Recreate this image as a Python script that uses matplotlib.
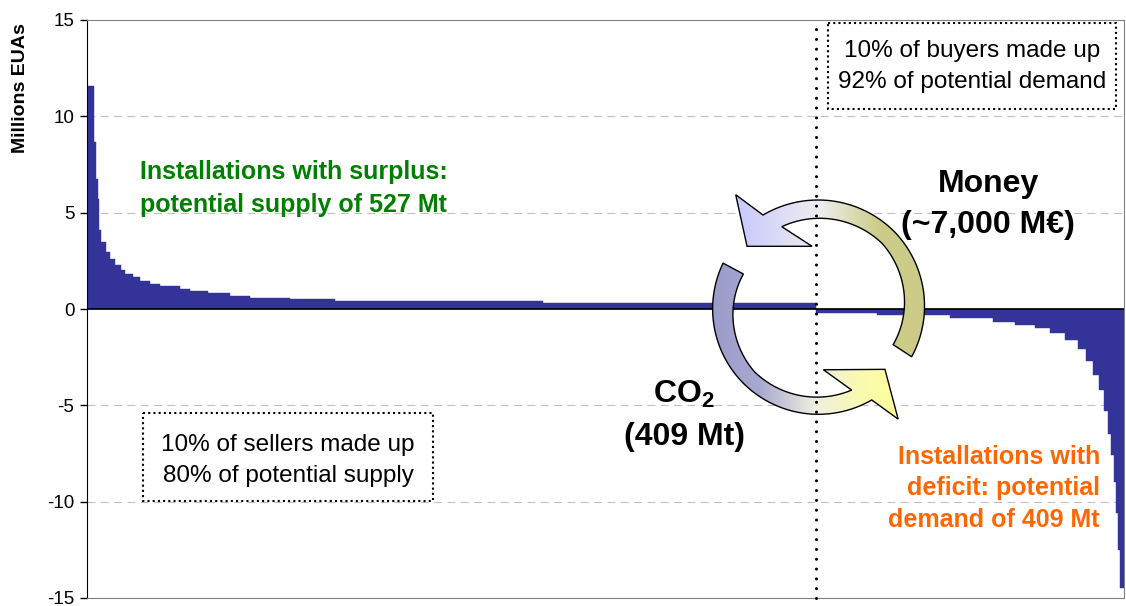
import numpy as np
import matplotlib.pyplot as plt
from matplotlib.patches import Polygon, Rectangle
from matplotlib.colors import LinearSegmentedColormap
from matplotlib.transforms import blended_transform_factory

plt.rcParams['font.family'] = ['Liberation Sans', 'DejaVu Sans']
plt.rcParams['mathtext.fontset'] = 'custom'
plt.rcParams['mathtext.rm'] = 'Liberation Sans'
plt.rcParams['mathtext.bf'] = 'Liberation Sans:bold'
plt.rcParams['axes.unicode_minus'] = False

# installations sorted by position (Millions EUAs), grouped into steps
surplus = [11.55, 8.65, 6.75, 5.7, 4.1, 3.5, 2.95, 2.6, 2.3, 2.0, 1.8, 1.65,
           1.45, 1.3, 1.17, 1.04, 0.93, 0.82, 0.70, 0.59, 0.50, 0.42, 0.31]
surplus_n = [7, 2, 2, 1, 2, 5, 4, 5, 6, 4, 8, 7,
             10, 10, 20, 10, 18, 22, 20, 40, 45, 208, 273]
deficit = [-0.2, -0.3, -0.45, -0.65, -0.85, -1.0, -1.25, -1.6, -2.1, -2.7,
           -3.4, -4.2, -5.3, -6.5, -7.6, -9.0, -10.6, -12.5, -14.5]
deficit_n = [61, 73, 43, 22, 20, 15, 15, 13, 8, 7,
             6, 5, 4, 3, 3, 2, 2, 2, 4]
yticks = [-15, -10, -5, 0, 5, 10, 15]

values = np.array(surplus + deficit)
widths = np.array(surplus_n + deficit_n)
lefts = np.concatenate([[0], np.cumsum(widths)[:-1]])
split = sum(surplus_n)

W, H = 1126, 606
fig = plt.figure(figsize=(W / 100, H / 100), dpi=100)
ax = fig.add_axes([87 / W, 8 / H, 1037 / W, 578 / H])
ax.set_zorder(1)

ax.bar(lefts, values, width=widths, align='edge', color='#333399',
       edgecolor='#333399', linewidth=0.3, zorder=2)
ax.axhline(0, color='black', lw=1.2, zorder=3)
for y in [-10, -5, 5, 10]:
    ax.axhline(y, color='#C0C0C0', lw=0.8, ls=(0, (7, 5)), zorder=1)

ax.set_xlim(0, widths.sum())
ax.set_ylim(-15, 15)
ax.set_yticks(yticks)
ax.set_xticks([])
ax.tick_params(axis='y', direction='out', length=5, width=1, labelsize=13.5, pad=4)
for s in ['top', 'right', 'bottom']:
    ax.spines[s].set_color('#808080')
ax.spines['left'].set_color('black')
ax.set_ylabel('Millions EUAs', fontsize=14, fontweight='bold')
ax.yaxis.set_label_coords(-0.056, 0.8815)

# overlay in pixel coordinates for annotations
ov = fig.add_axes([0, 0, 1, 1])
ov.set_zorder(2)
ov.patch.set_visible(False)
ov.axis('off')

cx, cy = 818, 308


def ring_arrow(a_out, r_out, a_in, r_in, head):
    ao = np.linspace(a_out[0], a_out[-1], 80)
    ro = np.interp(ao, a_out, r_out)
    ai = np.linspace(a_in[-1], a_in[0], 80)
    ri = np.interp(ai, a_in, r_in)
    pts = [(cx + r * np.cos(np.radians(a)), cy - r * np.sin(np.radians(a))) for a, r in zip(ao, ro)]
    pts += [(cx + r * np.cos(np.radians(a)), cy - r * np.sin(np.radians(a))) for r, a in head]
    pts += [(cx + r * np.cos(np.radians(a)), cy - r * np.sin(np.radians(a))) for a, r in zip(ai, ri)]
    return np.array(pts)


def draw_arrow(pts, colors):
    patch = Polygon(pts, closed=True, facecolor='none', edgecolor='black', lw=1.0, zorder=5)
    ov.add_patch(patch)
    cmap = LinearSegmentedColormap.from_list('g', colors)
    grad = np.linspace(0, 1, 256).reshape(1, -1)
    x0, x1 = pts[:, 0].min(), pts[:, 0].max()
    y0, y1 = pts[:, 1].min(), pts[:, 1].max()
    im = ov.imshow(grad, cmap=cmap, extent=(x0, x1, y1, y0), aspect='auto', zorder=4)
    im.set_clip_path(patch)


money = ring_arrow([-27.5, 45, 120.6], [105.6, 108, 108],
                   [-26, 45, 114], [83.6, 91, 89],
                   [(140, 126), (94, 139), (62, 95.5)])
co2 = ring_arrow([154.7, 225, 300.3], [105, 106, 106.5],
                 [155.5, 225, 292.3], [82, 90, 88.7],
                 [(137, 305.8), (90.8, 317.5), (62, 275)])
draw_arrow(money, [(0.0, '#C8C8FF'), (0.45, '#EEEEEE'), (0.75, '#CDCD8A'), (1.0, '#CCCC88')])
draw_arrow(co2, [(0.0, '#9C9CCC'), (0.25, '#A8A8CF'), (0.55, '#EFEFE2'), (0.8, '#FAFAB0'), (1.0, '#FFFF99')])

# dotted separator between sellers and buyers
ov.plot([split, split], [0, 1], transform=blended_transform_factory(ax.transData, ax.transAxes),
        color='black', lw=2.2, ls=(0, (0.01, 3.2)), dash_capstyle='round', zorder=6)

ov.text(140, 211.7, 'Installations with surplus:\npotential supply of 527 Mt',
        color='#008000', fontsize=18, fontweight='bold', ha='left', va='baseline',
        linespacing=1.45)
ov.text(1100, 526.7, 'Installations with\ndeficit: potential\ndemand of 409 Mt',
        color='#FF6600', fontsize=18, fontweight='bold', ha='right', va='baseline',
        multialignment='right', linespacing=1.4)
ov.text(988, 233.3, 'Money\n(~7,000 M€)', fontsize=23, fontweight='bold',
        ha='center', va='baseline', linespacing=1.48)
ov.text(684, 445, 'CO$_\\mathbf{2}$\n(409 Mt)', fontsize=23, fontweight='bold',
        ha='center', va='baseline', linespacing=1.5)

ov.add_patch(Rectangle((143, 413), 290, 88, fill=False, ec='black', lw=1.5, ls=(0, (1, 1.5))))
ov.text(288, 481.7, '10% of sellers made up\n80% of potential supply', fontsize=17.5,
        ha='center', va='baseline', linespacing=1.5)
ov.add_patch(Rectangle((828, 23), 288, 86, fill=False, ec='black', lw=1.5, ls=(0, (1, 1.5))))
ov.text(972, 88, '10% of buyers made up\n92% of potential demand', fontsize=17.5,
        ha='center', va='baseline', linespacing=1.5)

ov.set_xlim(0, W)
ov.set_ylim(H, 0)

fig.savefig('out.png', dpi=100)
